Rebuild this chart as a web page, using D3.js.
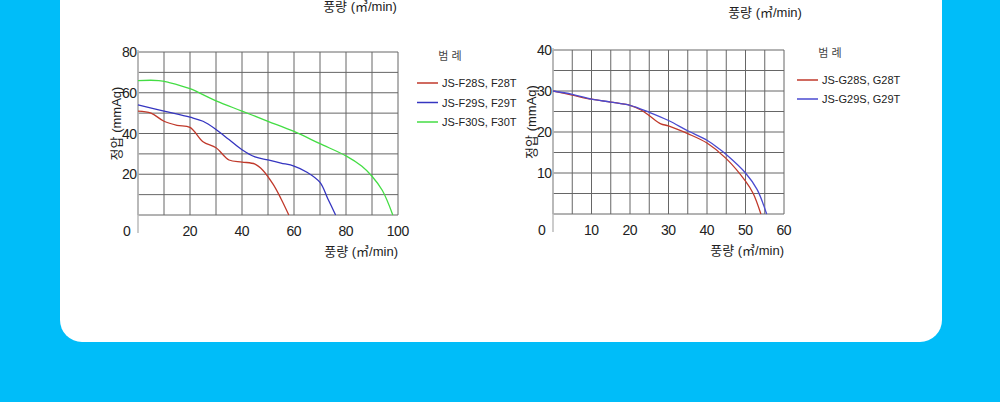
<!DOCTYPE html>
<html><head><meta charset="utf-8">
<script src="https://cdn.jsdelivr.net/npm/d3@7"></script>
<style>
body{margin:0;background:#00bdf9;font-family:"Liberation Sans","Noto Sans CJK KR",sans-serif;}
</style></head>
<body><svg id="chart" width="1000" height="402"></svg>
<script>
// left chart data
const leftX = [0, 20, 40, 60, 80, 100];
const leftY = [20, 40, 60, 80];
const f28 = [[0,51],[5,50],[10,46],[15,44],[20,43],[25,36],[30,33],[35,27],[40,26],[45,25],[48,22],[52,15],[55,8],[58,0]];
const f29 = [[0,54],[10,51],[20,48],[25,46],[30,42],[35,37],[40,32],[45,28.5],[50,27],[55,25.5],[60,24],[65,21],[70,16],[73,8],[76,0]];
const f30 = [[0,66],[8,66],[12,65],[20,62],[30,56],[40,51],[50,46],[60,41],[70,35],[80,29],[86,24],[90,19],[94,12],[98,0]];
const leftNames = ["JS-F28S, F28T", "JS-F29S, F29T", "JS-F30S, F30T"];

// right chart data
const rightX = [10, 20, 30, 40, 50, 60];
const rightY = [10, 20, 30, 40];
const g28 = [[0,30],[5,29],[10,28],[15,27.3],[20,26.5],[23,25.3],[25,24],[28,22],[30,21.5],[35,19.6],[40,17.3],[45,13.5],[50,8],[52,5],[54,0]];
const g29 = [[0,30],[5,29.2],[10,28],[15,27.3],[20,26.5],[25,24.8],[30,22.8],[35,20.3],[40,18],[43,16],[45,14.5],[50,10],[53,6],[55.5,0]];
const rightNames = ["JS-G28S, G28T", "JS-G29S, G29T"];

const svg = d3.select('#chart');

// white card
svg.append('rect').attr('x', 60).attr('y', -30).attr('width', 882).attr('height', 372)
    .attr('rx', 22).attr('fill', '#fff');

function drawChart(opt){
    const { x0, x1, y0, y1, xMax, yMax, step, xTicks, yTicks, series, colors, names, legend, title } = opt;
    const xScale = d3.scaleLinear().domain([0, xMax]).range([x0, x1]);
    const yScale = d3.scaleLinear().domain([0, yMax]).range([y0, y1]);
    const g = svg.append('g');

    // grid
    g.selectAll('.vx').data(d3.range(0, xMax + 0.01, step)).join('line')
        .attr('x1', d => xScale(d)).attr('x2', d => xScale(d))
        .attr('y1', y0).attr('y2', y1).attr('stroke', '#666').attr('stroke-width', 1);
    g.selectAll('.hy').data(d3.range(0, yMax + 0.01, step)).join('line')
        .attr('y1', d => yScale(d)).attr('y2', d => yScale(d))
        .attr('x1', x0).attr('x2', x1).attr('stroke', '#666').attr('stroke-width', 1);
    g.append('line').attr('x1', x0).attr('x2', x0).attr('y1', y1 - 2).attr('y2', y0 + 18)
        .attr('stroke', '#bbb').attr('stroke-width', 1.5);

    // tick labels
    g.selectAll('.xt').data(xTicks).join('text')
        .attr('x', d => xScale(d)).attr('y', y0 + 21).attr('text-anchor', 'middle')
        .attr('font-size', 14).attr('fill', '#222').attr('textLength', d => String(d).length * 7.5)
        .text(d => d);
    g.append('text').attr('x', x0 - 11).attr('y', y0 + 21).attr('text-anchor', 'middle')
        .attr('font-size', 14).attr('fill', '#222').text('0');
    g.selectAll('.yt').data(yTicks).join('text')
        .attr('x', x0 - 1).attr('y', d => yScale(d) + 5).attr('text-anchor', 'end')
        .attr('font-size', 14).attr('fill', '#222').attr('textLength', 15).text(d => d);

    // axis titles
    g.append('text').attr('x', x1).attr('y', y0 + 41).attr('text-anchor', 'end')
        .attr('font-size', 13).attr('fill', '#222').text('풍량 (㎥/min)');
    g.append('text').attr('transform', `translate(${x0 - 17},${(y0 + y1) / 2 - 10}) rotate(-90)`)
        .attr('text-anchor', 'middle').attr('font-size', 13).attr('fill', '#222').text('정압 (mmAq)');
    g.append('text').attr('x', title[0]).attr('y', title[1]).attr('text-anchor', 'middle')
        .attr('font-size', 13).attr('fill', '#222').text('풍량 (㎥/min)');

    // curves
    const line = d3.line().x(d => xScale(d[0])).y(d => yScale(d[1])).curve(d3.curveCatmullRom.alpha(0.5));
    series.forEach((s, i) => {
        g.append('path').attr('d', line(s)).attr('fill', 'none')
            .attr('stroke', colors[i]).attr('stroke-width', 1.3);
    });

    // legend
    g.append('text').attr('x', legend.x + 33).attr('y', legend.y).attr('text-anchor', 'middle')
        .attr('font-size', 11).attr('fill', '#444').text('범 례');
    names.forEach((n, i) => {
        const ly = legend.y + 23 + i * legend.gap;
        g.append('line').attr('x1', legend.x).attr('x2', legend.x + 21).attr('y1', ly).attr('y2', ly)
            .attr('stroke', colors[i]).attr('stroke-width', 1.5);
        g.append('text').attr('x', legend.x + 25).attr('y', ly + 4).attr('font-size', 11)
            .attr('fill', '#222').text(n);
    });
}

drawChart({
    x0: 138, x1: 398, y0: 215, y1: 52, xMax: 100, yMax: 80, step: 10,
    xTicks: leftX.filter(d => d > 0), yTicks: leftY,
    series: [f28, f29, f30], colors: ['#c0392b', '#3535c0', '#44dd44'], names: leftNames,
    legend: { x: 417, y: 60, gap: 19.5 }, title: [360, 11]
});

drawChart({
    x0: 553, x1: 784, y0: 214, y1: 50, xMax: 60, yMax: 40, step: 5,
    xTicks: rightX, yTicks: rightY,
    series: [g28, g29], colors: ['#c0392b', '#4a4ad0'], names: rightNames,
    legend: { x: 797, y: 57, gap: 19 }, title: [765, 17]
});
</script></body></html>
